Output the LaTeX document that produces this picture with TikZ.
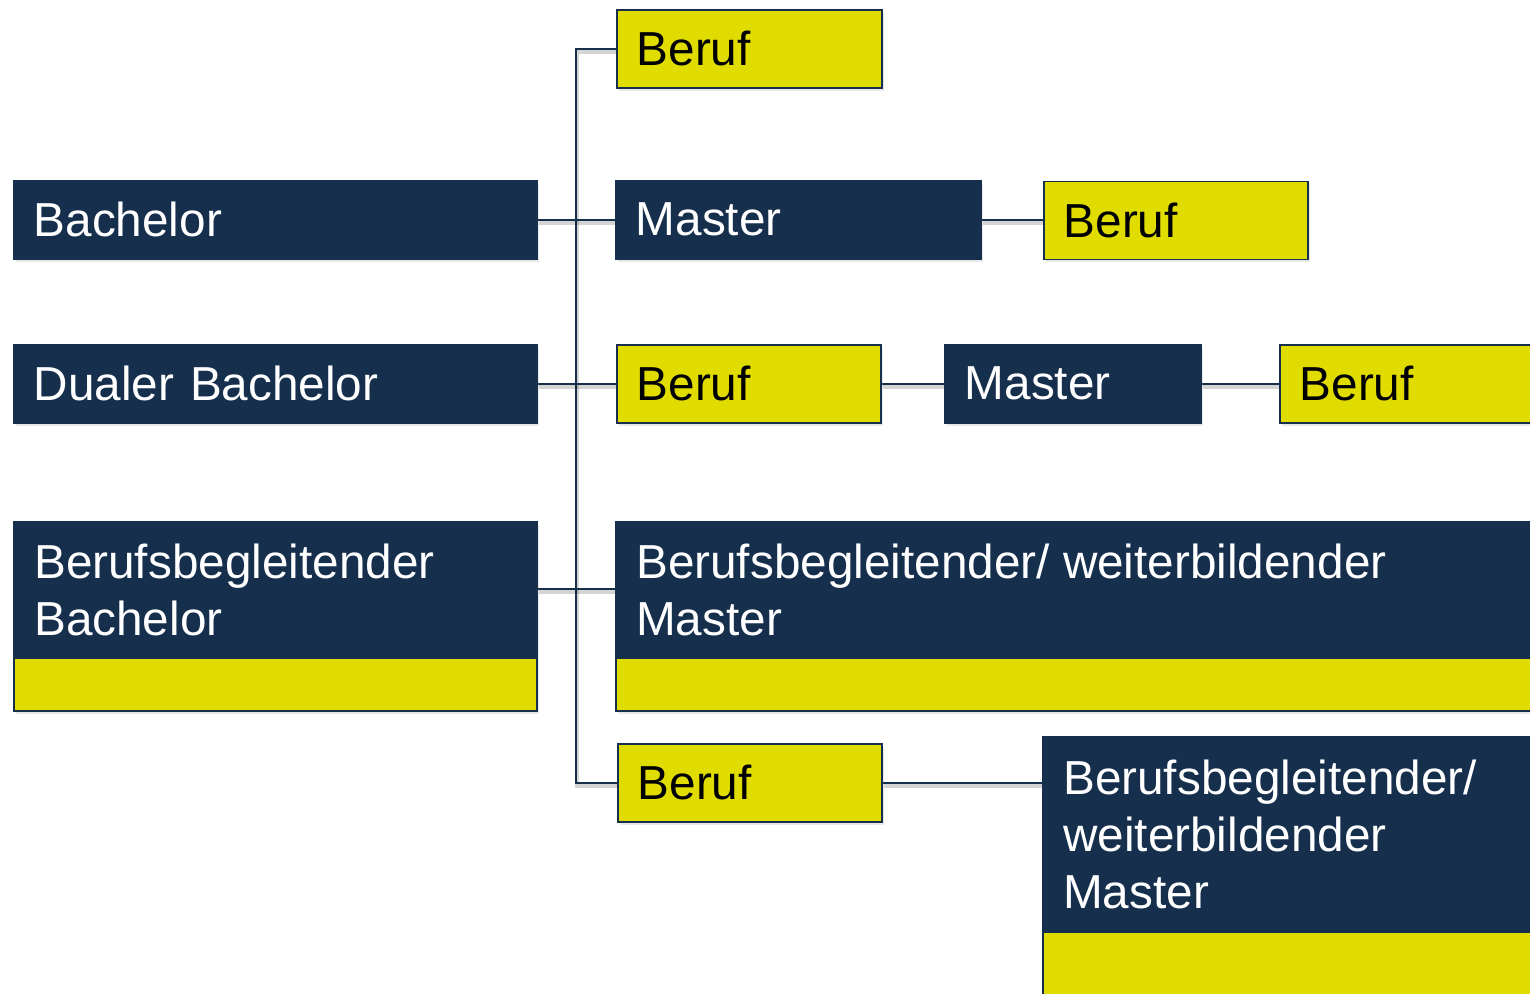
\documentclass[tikz,border=0pt]{standalone}
\usepackage{fontspec}
\setmainfont{Liberation Sans}
\usetikzlibrary{shadows,backgrounds}
\definecolor{navy}{HTML}{162F4D}
\definecolor{yel}{HTML}{E0DC00}
\newcommand{\boxfont}{\fontsize{47.7pt}{57pt}\selectfont}
\tikzset{
  base box/.style={draw=navy, line width=1.5pt, anchor=north west,
    inner xsep=20pt, inner ysep=0pt, minimum height=78pt, align=left,
    font=\boxfont,
    drop shadow={shadow xshift=2pt, shadow yshift=-3pt, opacity=.18}},
  darkbox/.style={base box, fill=navy, text=white},
  jobbox/.style={base box, fill=yel, text=black},
  splitbox/.style={draw=navy, line width=1.5pt, anchor=north west, fill=yel,
    inner sep=0pt,
    drop shadow={shadow xshift=2pt, shadow yshift=-3pt, opacity=.18},
    path picture={\fill[navy] (path picture bounding box.north west) rectangle
      ([yshift=-#1]path picture bounding box.north east);}},
  boxtext/.style={anchor=base west, inner sep=0pt, align=left, text=white,
    font=\boxfont},
  wire/.style={draw=navy, line width=1.5pt,
    preaction={draw=black, opacity=.17, line width=4pt,
      transform canvas={shift={(1pt,-3pt)}}}}
}
\begin{document}
\begin{tikzpicture}[x=1pt,y=-1pt]
\useasboundingbox (0,0) rectangle (1530,993);
\clip (0,0) rectangle (1530,993);

% first column: entry degrees
\node[darkbox, text width=483pt] (bach) at (13,180) {Bachelor};
\node[darkbox, text width=483pt] (dual) at (13,344) {Dualer Bachelor};
\node[splitbox=137pt, minimum width=523pt, minimum height=189pt] (bbb) at (13,521) {};

% second column
\node[jobbox, text width=225pt] (ber1) at (616,9) {Beruf};
\node[darkbox, text width=325pt] (mas1) at (615,180) {Master};
\node[jobbox, text width=224pt] (ber3) at (616,344) {Beruf};
\node[splitbox=137pt, minimum width=955pt, minimum height=189pt] (bbm) at (615,521) {};
\node[jobbox, text width=224pt] (ber5) at (617,743) {Beruf};

% further steps
\node[jobbox, text width=224pt] (ber2) at (1043,180.5) {Beruf};
\node[darkbox, text width=216pt] (mas2) at (944,344) {Master};
\node[jobbox, text width=251pt] (ber4) at (1279,344) {Beruf};
\node[splitbox=196pt, minimum width=528pt, minimum height=294pt] (big) at (1042,736) {};

% labels of the two-part boxes (anchored on the last line's baseline)
\node[boxtext] (bbbt) at ([xshift=21pt, yshift=-114pt]bbb.north west)
  {Berufsbegleitender\\Bachelor};
\node[boxtext] (bbmt) at ([xshift=21pt, yshift=-114pt]bbm.north west)
  {Berufsbegleitender/ weiterbildender\\Master};
\node[boxtext] (bigt) at ([xshift=21pt, yshift=-172pt]big.north west)
  {Berufsbegleitender/\\weiterbildender\\Master};

% connectors
\coordinate (trunk) at (576,0);
\begin{scope}[on background layer]
  \draw[wire] (ber1.west) -- (ber1.west -| trunk) -- (ber5.west -| trunk)
    -- (ber5.west);
  \draw[wire] (bach.east) -- (mas1.west);
  \draw[wire] (dual.east) -- (ber3.west);
  \draw[wire] ([yshift=-68pt]bbb.north east) -- ([yshift=-68pt]bbm.north west);
  \draw[wire] (mas1.east) -- (mas1.east -| ber2.west);
  \draw[wire] (ber3.east) -- (mas2.west);
  \draw[wire] (mas2.east) -- (ber4.west);
  \draw[wire] (ber5.east) -- (ber5.east -| big.west);
\end{scope}
\end{tikzpicture}
\end{document}
